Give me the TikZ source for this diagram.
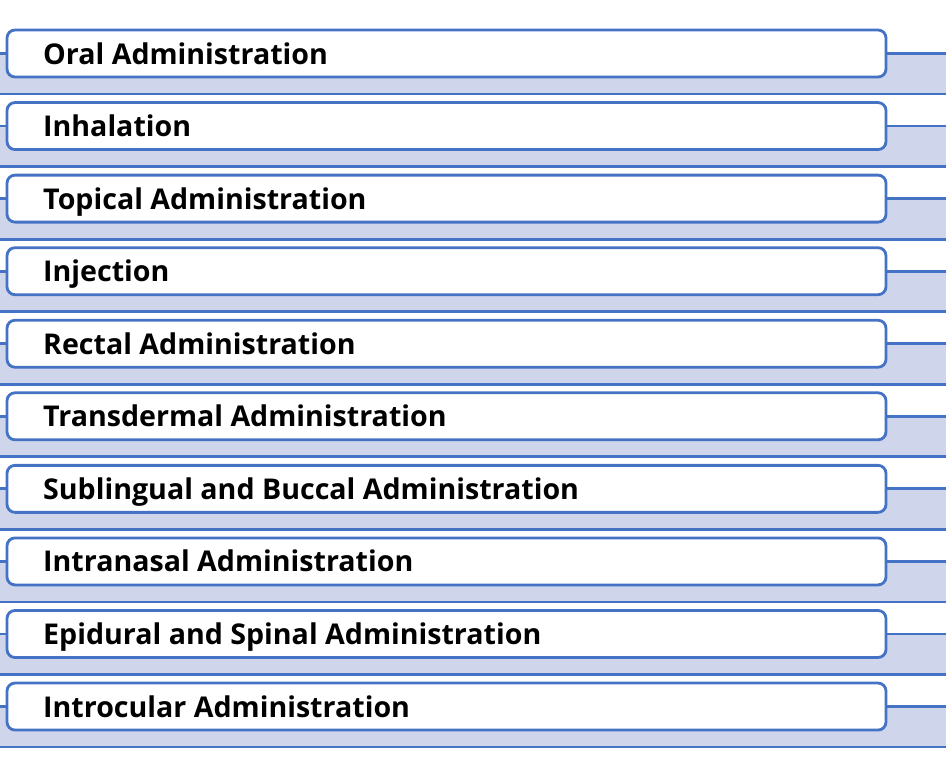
\documentclass[tikz,border=0pt]{standalone}
\usepackage{fontspec}
\setmainfont{Open Sans}
\definecolor{lineblue}{HTML}{4472C4}
\definecolor{bandfill}{HTML}{CFD5EA}
\tikzset{
  itembox/.style={draw=lineblue, line width=2.8pt, fill=white, rounded corners=8pt, minimum width=879pt, minimum height=47pt, inner sep=0pt},
  itemtext/.style={anchor=base west, inner sep=0pt, font=\fontsize{28.6}{34}\selectfont\bfseries},
  bandline/.style={draw=lineblue, line width=2.8pt},
}
\begin{document}
\begin{tikzpicture}[x=1pt,y=-1pt]
\useasboundingbox (0,0) rectangle (946,771);
\foreach \i/\t in {0/Oral Administration,1/Inhalation,2/Topical Administration,3/Injection,4/Rectal Administration,5/Transdermal Administration,6/Sublingual and Buccal Administration,7/Intranasal Administration,8/Epidural and Spinal Administration,9/Introcular Administration}{
  \pgfmathsetmacro{\c}{53.5+72.56*\i}
  \fill[bandfill] (0,\c) rectangle (946,\c+40.5);
  \coordinate (l\i) at (0,\c);
  \coordinate (r\i) at (946,\c);
  \coordinate (bl\i) at (0,\c+40.5);
  \coordinate (br\i) at (946,\c+40.5);
  \draw[bandline] (bl\i) -- (br\i);
  \node[itembox] (b\i) at (446.5,\c) {};
  \draw[bandline] (l\i) -- (b\i.west);
  \draw[bandline] (b\i.east) -- (r\i);
  \node[itemtext] (t\i) at (43,\c+10.5) {\t};
}
\end{tikzpicture}
\end{document}
